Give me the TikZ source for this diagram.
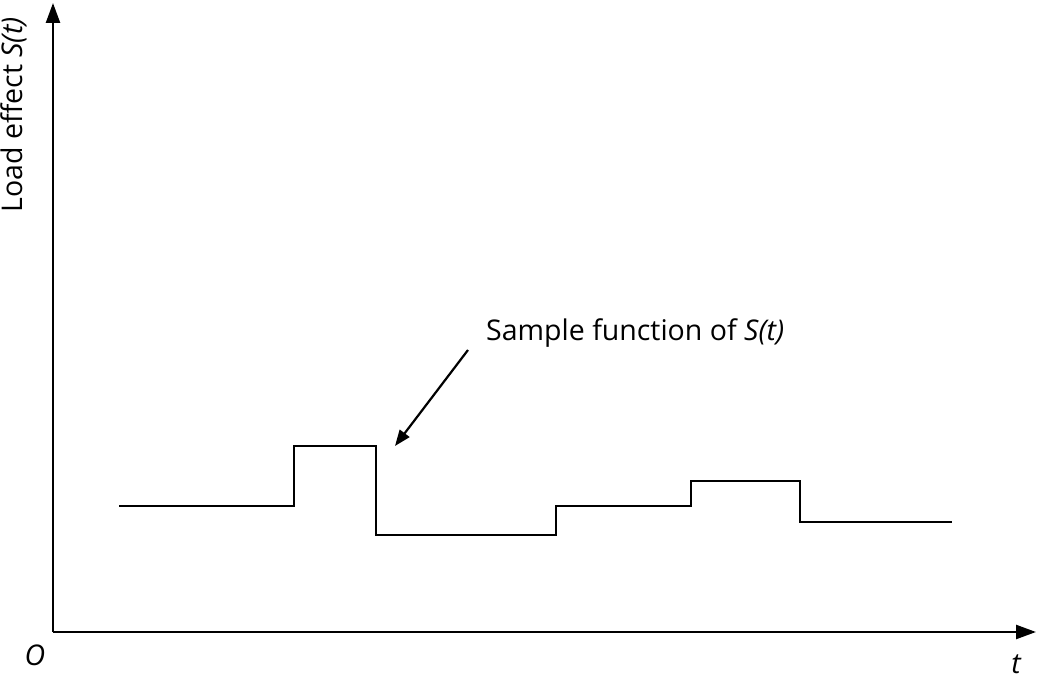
\documentclass[tikz,border=0pt]{standalone}
\usepackage{fontspec}
\setmainfont{Open Sans}
\usetikzlibrary{arrows.meta}
\begin{document}
\begin{tikzpicture}[x=1pt,y=-1pt,
  axis/.style={line width=2.4pt,-{Triangle[length=20pt,width=14pt]}},
  curve/.style={line width=2.2pt},
  lbl/.style={font=\fontsize{28.5}{32}\selectfont,inner sep=0pt}]
\useasboundingbox (0,0) rectangle (1037,679);
\coordinate (o) at (53,632);
\coordinate (ytop) at (53,3);
\coordinate (xend) at (1036,632);
\draw[axis] (o) -- (ytop);
\draw[axis] (o) -- (xend);
\node[lbl] (O) at (35,655) {\itshape O};
\node[lbl] (t) at (1016,664) {\itshape t};
\node[lbl,rotate=90] (ylab) at (14,115) {Load effect \textit{S(t)}};
\draw[curve] (119,506) -- (294,506) -- (294,446) -- (376,446) -- (376,535) -- (556,535) -- (556,506) -- (691,506) -- (691,481) -- (800,481) -- (800,522) -- (952,522);
\node[lbl,anchor=west] (samp) at (486,333) {Sample function of \textit{S(t)}};
\coordinate (tail) at (468,350);
\coordinate (head) at (395,446);
\draw[line width=2.2pt,-{Triangle[length=16pt,width=12pt]}] (tail) -- (head);
\end{tikzpicture}
\end{document}
